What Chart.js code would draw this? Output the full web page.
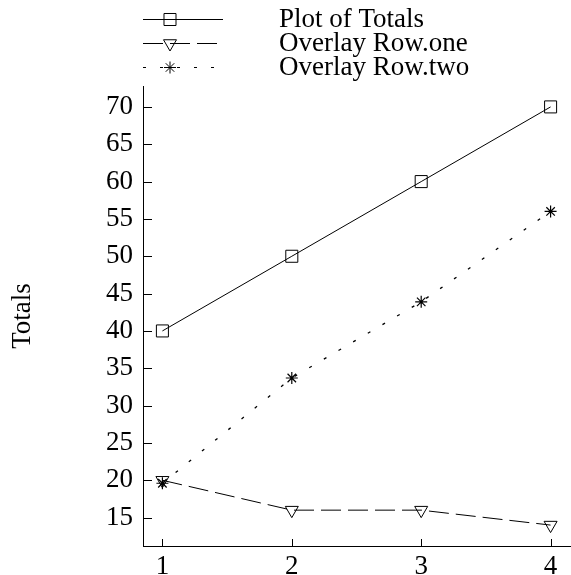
<!DOCTYPE html>
<html lang="en">
<head>
  <meta charset="UTF-8" />
  <title>Plot of Totals</title>
  <script src="https://cdn.jsdelivr.net/npm/chart.js"></script>
  <style>
    html, body { margin: 0; padding: 0; background: #fff; }
    #wrap { width: 571px; height: 575px; }
  </style>
</head>
<body>
  <div id="wrap"><canvas id="chart" width="571" height="575"></canvas></div>
  <script>
    const xValues = [1, 2, 3, 4];
    const totals = [40, 50, 60, 70];
    const rowOne = [20, 16, 16, 14];
    const rowTwo = [19.6, 33.7, 43.9, 56];
    const seriesNames = ['Plot of Totals', 'Overlay Row.one', 'Overlay Row.two'];
    const yTicks = [15, 20, 25, 30, 35, 40, 45, 50, 55, 60, 65, 70];
    const xTicks = [1, 2, 3, 4];

    const serif = "'Times New Roman', 'Liberation Serif', serif";
    const fontSize = 27;

    function pts(vals) {
      return vals.map((v, i) => ({ x: xValues[i], y: v }));
    }

    // inward tick marks, the way the original plot has them
    const innerTicks = {
      id: 'innerTicks',
      afterDraw(chart) {
        const ctx = chart.ctx;
        const { left, bottom } = chart.chartArea;
        const xs = chart.scales.x, ys = chart.scales.y;
        ctx.save();
        ctx.strokeStyle = '#000';
        ctx.lineWidth = 1;
        ctx.beginPath();
        yTicks.forEach(t => {
          const y = Math.round(ys.getPixelForValue(t)) + 0.5;
          ctx.moveTo(left, y);
          ctx.lineTo(left + 9, y);
        });
        xTicks.forEach(t => {
          const x = Math.round(xs.getPixelForValue(t)) + 0.5;
          ctx.moveTo(x, bottom);
          ctx.lineTo(x, bottom - 7);
        });
        ctx.stroke();
        ctx.restore();
      }
    };

    // legend: line sample with marker, then the label
    const seriesKey = {
      id: 'seriesKey',
      afterDraw(chart) {
        const ctx = chart.ctx;
        const left = chart.chartArea.left;
        chart.data.datasets.forEach((ds, i) => {
          const y = 19.5 + i * 24;
          ctx.save();
          ctx.strokeStyle = '#000';
          ctx.fillStyle = 'rgba(0,0,0,0)';
          ctx.lineWidth = 1;
          ctx.setLineDash(ds.borderDash || []);
          ctx.beginPath();
          ctx.moveTo(left, y);
          ctx.lineTo(left + 80, y);
          ctx.stroke();
          ctx.setLineDash([]);
          Chart.helpers.drawPoint(ctx, {
            pointStyle: ds.pointStyle,
            radius: ds.pointRadius,
            rotation: ds.pointRotation || 0,
            borderWidth: 1
          }, left + 27, y);
          ctx.fillStyle = '#000';
          ctx.font = fontSize + 'px ' + serif;
          ctx.textBaseline = 'alphabetic';
          ctx.textAlign = 'left';
          ctx.fillText(ds.label, left + 136, 27 + i * 24);
          ctx.restore();
        });
      }
    };

    new Chart(document.getElementById('chart'), {
      type: 'line',
      data: {
        datasets: [
          {
            label: seriesNames[0],
            data: pts(totals),
            borderColor: '#000',
            borderWidth: 1,
            backgroundColor: 'rgba(0,0,0,0)',
            pointStyle: 'rect',
            pointRadius: 8.5,
            pointBorderWidth: 1,
            pointBorderColor: '#000',
            pointBackgroundColor: 'rgba(0,0,0,0)'
          },
          {
            label: seriesNames[1],
            data: pts(rowOne),
            borderColor: '#000',
            borderWidth: 1,
            borderDash: [20, 7],
            backgroundColor: 'rgba(0,0,0,0)',
            pointStyle: 'triangle',
            pointRotation: 180,
            pointRadius: 7.5,
            pointBorderWidth: 1,
            pointBorderColor: '#000',
            pointBackgroundColor: 'rgba(0,0,0,0)'
          },
          {
            label: seriesNames[2],
            data: pts(rowTwo),
            borderColor: '#000',
            borderWidth: 1.3,
            borderDash: [3, 14],
            backgroundColor: 'rgba(0,0,0,0)',
            pointStyle: 'star',
            pointRadius: 6,
            pointBorderWidth: 1.2,
            pointBorderColor: '#000',
            pointBackgroundColor: 'rgba(0,0,0,0)'
          }
        ]
      },
      options: {
        responsive: false,
        animation: false,
        layout: { autoPadding: false, padding: { top: 86, right: 1, bottom: 0, left: 0 } },
        plugins: {
          legend: { display: false },
          tooltip: { enabled: false }
        },
        scales: {
          x: {
            type: 'linear',
            min: 0.85,
            max: 4.15,
            grid: { display: false, drawTicks: false },
            border: { display: true, color: '#000', width: 1 },
            afterBuildTicks: s => { s.ticks = xTicks.map(v => ({ value: v })); },
            afterFit: s => { s.height = 29; s.paddingLeft = 0; s.paddingRight = 0; },
            ticks: {
              color: '#000',
              padding: 5,
              font: { family: serif, size: fontSize },
              maxRotation: 0
            }
          },
          y: {
            min: 11.2,
            max: 72.8,
            grid: { display: false, drawTicks: false },
            border: { display: true, color: '#000', width: 1 },
            afterBuildTicks: s => { s.ticks = yTicks.map(v => ({ value: v })); },
            afterFit: s => { s.width = 143; s.paddingTop = 0; s.paddingBottom = 0; },
            ticks: {
              color: '#000',
              padding: 10,
              font: { family: serif, size: fontSize }
            },
            title: {
              display: true,
              text: 'Totals',
              color: '#000',
              font: { family: serif, size: fontSize },
              padding: { top: 7, bottom: 0 }
            }
          }
        }
      },
      plugins: [innerTicks, seriesKey]
    });
  </script>
</body>
</html>
